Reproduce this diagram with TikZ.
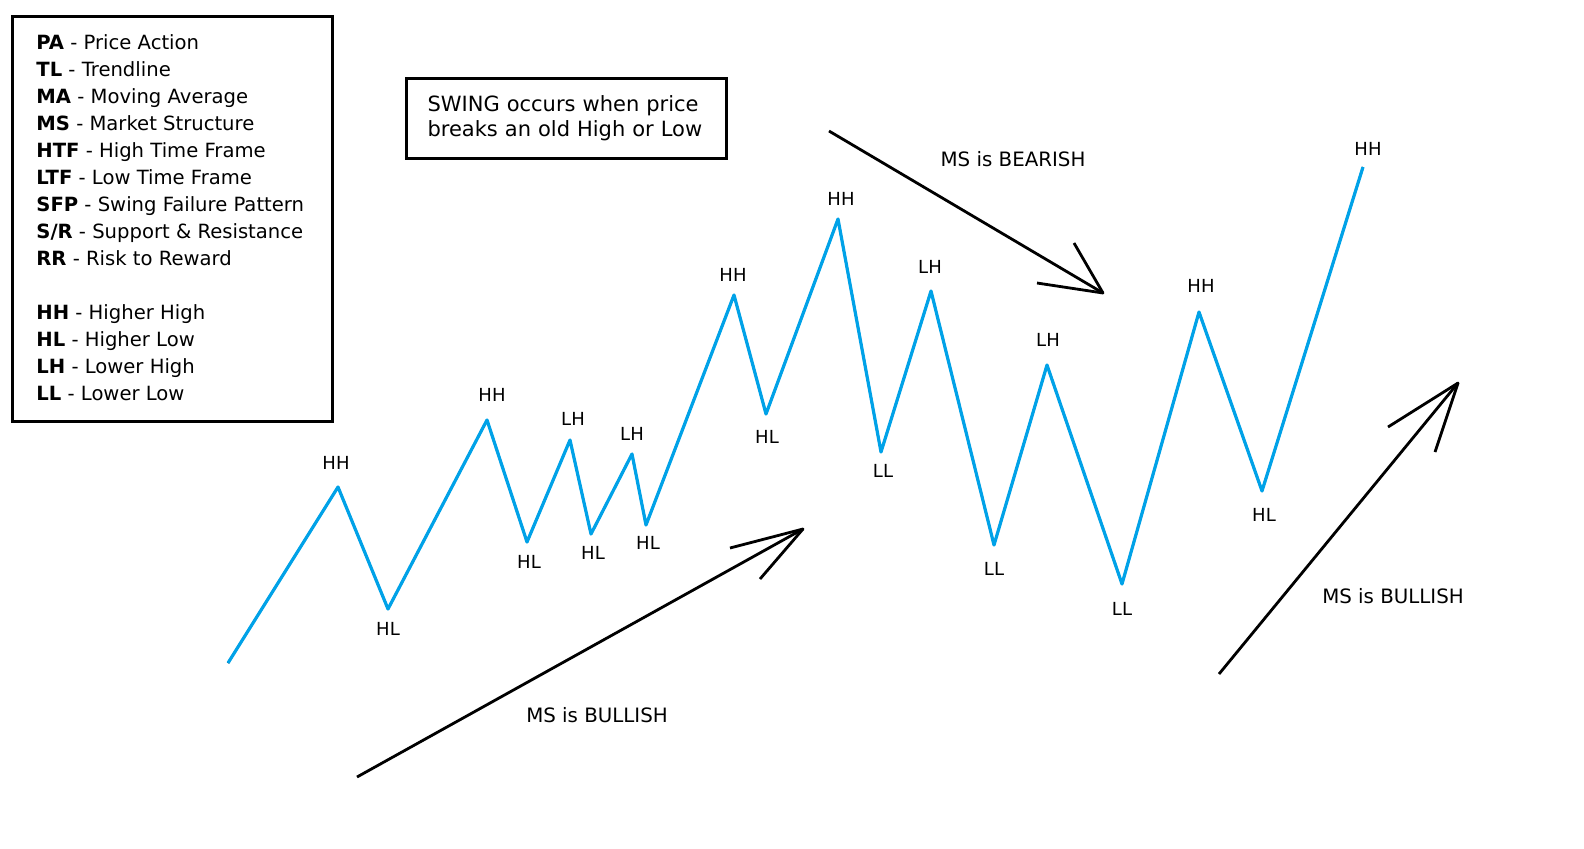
\documentclass[tikz,border=0pt]{standalone}
\usepackage{fontspec}
\setmainfont{DejaVu Sans}
\usepackage{xcolor}
\usetikzlibrary{positioning}

\definecolor{paintblue}{HTML}{00A2E8}

\tikzset{
    boxline/.style={line width=1.5pt},
    legendtext/.style={anchor=base west, inner sep=0pt, font=\fontsize{9.8}{11}\selectfont},
    notebox/.style={draw, line width=1.5pt, align=left, text width=139pt, inner xsep=10.5pt, inner ysep=0pt, minimum height=40pt, font=\fontsize{10.5}{12.5}\selectfont},
    swingshadow/.style={draw=black, line width=1pt, line join=round, xshift=-0.5pt},
    swingline/.style={draw=paintblue, line width=1.6pt, line join=round},
    trendline/.style={line width=1.4pt, line join=round},
    pointlabel/.style={inner sep=0pt, font=\fontsize{9}{10}\selectfont},
    trendlabel/.style={inner sep=0pt, font=\fontsize{9.9}{11}\selectfont}
}

\begin{document}
\begin{tikzpicture}[x=0.5pt, y=-0.5pt]
    \useasboundingbox (0,0) rectangle (1584,848);

    % legend
    \draw[boxline] (12,16) rectangle (332,421);
    \node[legendtext] (pa) at (36,49) {\textbf{PA} - Price Action};
    \node[legendtext] (tl) at (36,76) {\textbf{TL} - Trendline};
    \node[legendtext] (ma) at (36,103) {\textbf{MA} - Moving Average};
    \node[legendtext] (ms) at (36,130) {\textbf{MS} - Market Structure};
    \node[legendtext] (htf) at (36,157) {\textbf{HTF} - High Time Frame};
    \node[legendtext] (ltf) at (36,184) {\textbf{LTF} - Low Time Frame};
    \node[legendtext] (sfp) at (36,211) {\textbf{SFP} - Swing Failure Pattern};
    \node[legendtext] (sr) at (36,238) {\textbf{S/R} - Support \& Resistance};
    \node[legendtext] (rr) at (36,265) {\textbf{RR} - Risk to Reward};
    \node[legendtext] (hh) at (36,319) {\textbf{HH} - Higher High};
    \node[legendtext] (hl) at (36,346) {\textbf{HL} - Higher Low};
    \node[legendtext] (lh) at (36,373) {\textbf{LH} - Lower High};
    \node[legendtext] (ll) at (36,400) {\textbf{LL} - Lower Low};

    % note
    \node[notebox, anchor=north west] (swing) at (405,77) {SWING occurs when price\\breaks an old High or Low};

    % price swings
    \coordinate (s0) at (228,663);
    \coordinate (s1) at (338,487);
    \coordinate (s2) at (388,609);
    \coordinate (s3) at (487,420);
    \coordinate (s4) at (527,542);
    \coordinate (s5) at (570,440);
    \coordinate (s6) at (591,534);
    \coordinate (s7) at (632,454);
    \coordinate (s8) at (646,525);
    \coordinate (s9) at (734,295);
    \coordinate (s10) at (766,414);
    \coordinate (s11) at (838,219);
    \coordinate (s12) at (881,452);
    \coordinate (s13) at (931,291);
    \coordinate (s14) at (994,545);
    \coordinate (s15) at (1047,365);
    \coordinate (s16) at (1122,584);
    \coordinate (s17) at (1199,312);
    \coordinate (s18) at (1262,491);
    \coordinate (s19) at (1363,167);

    \draw[swingshadow] (s0) -- (s1) -- (s2) -- (s3) -- (s4) -- (s5) -- (s6) -- (s7) -- (s8) -- (s9)
        -- (s10) -- (s11) -- (s12) -- (s13) -- (s14) -- (s15) -- (s16) -- (s17) -- (s18) -- (s19);
    \draw[swingline] (s0) -- (s1) -- (s2) -- (s3) -- (s4) -- (s5) -- (s6) -- (s7) -- (s8) -- (s9)
        -- (s10) -- (s11) -- (s12) -- (s13) -- (s14) -- (s15) -- (s16) -- (s17) -- (s18) -- (s19);

    \node[pointlabel] (p1) at (336,463) {HH};
    \node[pointlabel] (p2) at (388,629) {HL};
    \node[pointlabel] (p3) at (492,395) {HH};
    \node[pointlabel] (p4) at (529,562) {HL};
    \node[pointlabel] (p5) at (573,419) {LH};
    \node[pointlabel] (p6) at (593,553) {HL};
    \node[pointlabel] (p7) at (632,434) {LH};
    \node[pointlabel] (p8) at (648,543) {HL};
    \node[pointlabel] (p9) at (733,275) {HH};
    \node[pointlabel] (p10) at (767,437) {HL};
    \node[pointlabel] (p11) at (841,199) {HH};
    \node[pointlabel] (p12) at (883,471) {LL};
    \node[pointlabel] (p13) at (930,267) {LH};
    \node[pointlabel] (p14) at (994,569) {LL};
    \node[pointlabel] (p15) at (1048,340) {LH};
    \node[pointlabel] (p16) at (1122,609) {LL};
    \node[pointlabel] (p17) at (1201,286) {HH};
    \node[pointlabel] (p18) at (1264,515) {HL};
    \node[pointlabel] (p19) at (1368,149) {HH};

    % market structure arrows
    \coordinate (bull0) at (357,777);
    \coordinate (bull1) at (803,529);
    \coordinate (bullA) at (730,548);
    \coordinate (bullB) at (760,579);
    \draw[trendline] (bull0) -- (bull1);
    \draw[trendline] (bullA) -- (bull1) -- (bullB);
    \node[trendlabel] (bulltext) at (597,715) {MS is BULLISH};

    \coordinate (bear0) at (829,131);
    \coordinate (bear1) at (1103,293);
    \coordinate (bearA) at (1074,243);
    \coordinate (bearB) at (1037,283);
    \draw[trendline] (bear0) -- (bear1);
    \draw[trendline] (bearA) -- (bear1) -- (bearB);
    \node[trendlabel] (beartext) at (1013,159) {MS is BEARISH};

    \coordinate (rise0) at (1219,674);
    \coordinate (rise1) at (1458,383);
    \coordinate (riseA) at (1388,427);
    \coordinate (riseB) at (1435,452);
    \draw[trendline] (rise0) -- (rise1);
    \draw[trendline] (riseA) -- (rise1) -- (riseB);
    \node[trendlabel] (risetext) at (1393,596) {MS is BULLISH};
\end{tikzpicture}
\end{document}
